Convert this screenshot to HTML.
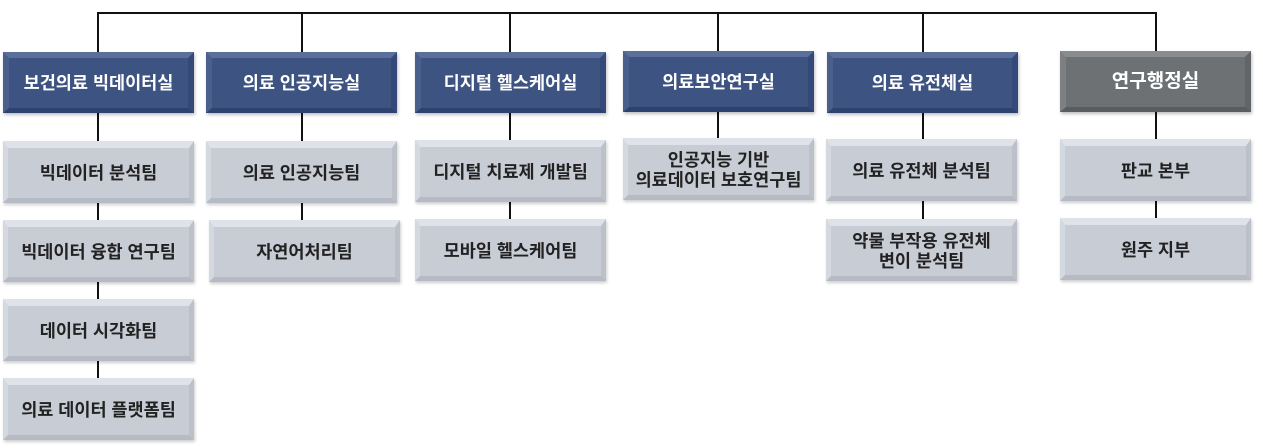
<!DOCTYPE html>
<html><head><meta charset="utf-8"><style>
body{margin:0;width:1263px;height:448px;background:#fff;position:relative;overflow:hidden;font-family:"Liberation Sans","Noto Sans CJK KR",sans-serif;}
.b{position:absolute;display:flex;align-items:center;justify-content:center;text-align:center;font-weight:bold;box-sizing:border-box;line-height:1.15;white-space:nowrap;}
.h{height:61px;width:191px;color:#fff;font-size:17.5px;background:#3d5382;border-top:6px solid #5b6f9b;border-bottom:5px solid #2e4270;border-left:6px solid #4a5f8c;border-right:6px solid #34497a;box-shadow:1px 2px 3px rgba(0,0,0,.25);}
.g{background:#6e7173;border-top-color:#8a8d8f;border-bottom-color:#5a5d5f;border-left-color:#7d8082;border-right-color:#626567;}
.c{height:62px;width:191px;color:#222;font-size:17.5px;background:#c8ccd5;border-top:7px solid #dfe2e8;border-bottom:5px solid #b5bac4;border-left:5px solid #d4d8df;border-right:5px solid #bcc0c9;box-shadow:1px 2px 3px rgba(0,0,0,.2);}
.l{position:absolute;background:#111;}
</style></head><body>
<div class="l" style="left:97px;top:12px;width:1060px;height:2px"></div>
<div class="l" style="left:97px;top:12px;width:2px;height:40px"></div>
<div class="l" style="left:301px;top:12px;width:2px;height:40px"></div>
<div class="l" style="left:509px;top:12px;width:2px;height:40px"></div>
<div class="l" style="left:717px;top:12px;width:2px;height:40px"></div>
<div class="l" style="left:922px;top:12px;width:2px;height:40px"></div>
<div class="l" style="left:1155px;top:12px;width:2px;height:40px"></div>

<div class="l" style="left:97px;top:110px;width:2px;height:330px"></div>
<div class="l" style="left:301px;top:110px;width:2px;height:110px"></div>
<div class="l" style="left:509px;top:110px;width:2px;height:110px"></div>
<div class="l" style="left:717px;top:110px;width:2px;height:30px"></div>
<div class="l" style="left:922px;top:110px;width:2px;height:110px"></div>
<div class="l" style="left:1155px;top:110px;width:2px;height:110px"></div>

<div class="b h" style="left:3px;top:52px">보건의료 빅데이터실</div>
<div class="b h" style="left:206px;top:52px">의료 인공지능실</div>
<div class="b h" style="left:415px;top:52px">디지털 헬스케어실</div>
<div class="b h" style="left:623px;top:51px">의료보안연구실</div>
<div class="b h" style="left:827px;top:52px">의료 유전체실</div>
<div class="b h g" style="left:1060px;top:51px;font-size:19px">연구행정실</div>

<div class="b c" style="left:3px;top:141px">빅데이터 분석팀</div>
<div class="b c" style="left:3px;top:220px">빅데이터 융합 연구팀</div>
<div class="b c" style="left:3px;top:299px">데이터 시각화팀</div>
<div class="b c" style="left:3px;top:378px">의료 데이터 플랫폼팀</div>

<div class="b c" style="left:206px;top:141px">의료 인공지능팀</div>
<div class="b c" style="left:209px;top:220px">자연어처리팀</div>

<div class="b c" style="left:415px;top:140px">디지털 치료제 개발팀</div>
<div class="b c" style="left:415px;top:219px">모바일 헬스케어팀</div>

<div class="b c" style="left:623px;top:138px">인공지능 기반<br>의료데이터 보호연구팀</div>

<div class="b c" style="left:826px;top:139px">의료 유전체 분석팀</div>
<div class="b c" style="left:826px;top:219px">약물 부작용 유전체<br>변이 분석팀</div>

<div class="b c" style="left:1060px;top:139px">판교 본부</div>
<div class="b c" style="left:1060px;top:218px">원주 지부</div>
</body></html>
